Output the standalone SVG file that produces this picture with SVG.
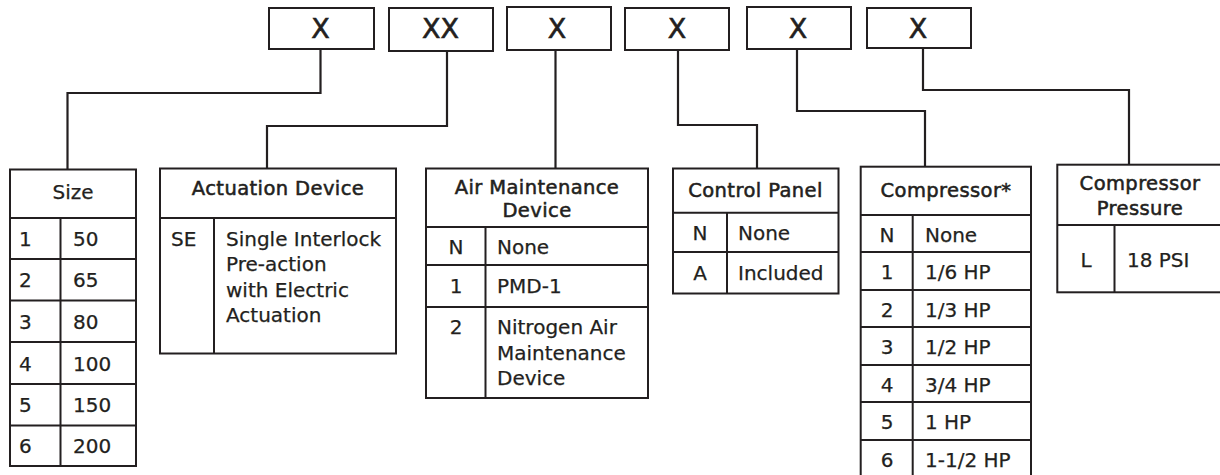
<svg xmlns="http://www.w3.org/2000/svg" width="1220" height="475" viewBox="0 0 1220 475">
<style>
.box{fill:#fff;stroke:#231f20;stroke-width:2}
.ln{stroke:#231f20;stroke-width:2;fill:none}
.con{stroke:#231f20;stroke-width:2.2;fill:none;stroke-linejoin:miter}
text{font-family:"DejaVu Sans","Liberation Sans",sans-serif;fill:#231f20}
.x{font-size:27px;text-anchor:middle;stroke:#231f20;stroke-width:0.6}
.b{font-size:20px;stroke:#231f20;stroke-width:0.25}
.c{text-anchor:middle}
.h{font-size:19.5px;text-anchor:middle;stroke:#231f20;stroke-width:0.55;letter-spacing:0.4px}
.hs{font-size:20px;text-anchor:middle;stroke:#231f20;stroke-width:0.25}
</style>
<rect width="1220" height="475" fill="#fff"/>
<g id="connectors">
<path class="con" d="M320.5,50 V93 H67.5 V169"/>
<path class="con" d="M447,51 V126 H267 V168"/>
<path class="con" d="M555.5,50 V168"/>
<path class="con" d="M678,50 V125 H757 V168"/>
<path class="con" d="M797,49 V111 H925 V166"/>
<path class="con" d="M923,48 V90 H1129 V164"/>
</g>
<g id="code1"><rect class="box" x="269" y="8" width="105" height="41"/><text class="x" x="320.5" y="38">X</text></g>
<g id="code2"><rect class="box" x="389" y="8" width="104" height="43"/><text class="x" x="440.5" y="38">XX</text></g>
<g id="code3"><rect class="box" x="507" y="7" width="104" height="43"/><text class="x" x="557" y="38">X</text></g>
<g id="code4"><rect class="box" x="625" y="8" width="104" height="42"/><text class="x" x="677" y="38">X</text></g>
<g id="code5"><rect class="box" x="747" y="7" width="104" height="42"/><text class="x" x="798" y="38">X</text></g>
<g id="code6"><rect class="box" x="867" y="8" width="104" height="40"/><text class="x" x="918" y="38">X</text></g>

<g id="size">
<rect class="box" x="10" y="169.5" width="126" height="296.5"/>
<path class="ln" d="M10,218 H136 M10,259 H136 M10,300.5 H136 M10,342 H136 M10,384 H136 M10,425.5 H136 M60.5,218 V466"/>
<text class="hs" x="73" y="199">Size</text>
<g class="b">
<text x="19" y="246">1</text><text x="73" y="246">50</text>
<text x="19" y="287">2</text><text x="73" y="287">65</text>
<text x="19" y="328.5">3</text><text x="73" y="328.5">80</text>
<text x="19" y="370.5">4</text><text x="73" y="370.5">100</text>
<text x="19" y="412">5</text><text x="73" y="412">150</text>
<text x="19" y="453">6</text><text x="73" y="453">200</text>
</g>
</g>

<g id="actuation">
<rect class="box" x="160" y="168.5" width="236" height="185"/>
<path class="ln" d="M160,218 H396 M214,218 V353.5"/>
<text class="h" x="278" y="195">Actuation Device</text>
<g class="b">
<text x="171" y="245.5">SE</text>
<text x="226" y="245.5">Single Interlock</text>
<text x="226" y="271">Pre-action</text>
<text x="226" y="296.5">with Electric</text>
<text x="226" y="322">Actuation</text>
</g>
</g>

<g id="air">
<rect class="box" x="426" y="168.5" width="222" height="229.5"/>
<path class="ln" d="M426,227 H648 M426,265 H648 M426,307 H648 M485.5,227 V398"/>
<text class="h" x="537" y="194">Air Maintenance</text>
<text class="h" x="537" y="217">Device</text>
<g class="b">
<text class="c" x="456" y="254">N</text><text x="497" y="254">None</text>
<text class="c" x="456" y="292.5">1</text><text x="497" y="292.5">PMD-1</text>
<text class="c" x="456" y="334">2</text><text x="497" y="334">Nitrogen Air</text>
<text x="497" y="359.5">Maintenance</text>
<text x="497" y="385">Device</text>
</g>
</g>

<g id="control">
<rect class="box" x="673" y="168.5" width="165.5" height="125"/>
<path class="ln" d="M673,212.7 H838.5 M673,252 H838.5 M727,212.7 V293.5"/>
<text class="h" x="755.5" y="197">Control Panel</text>
<g class="b">
<text class="c" x="700" y="239.5">N</text><text x="738" y="239.5">None</text>
<text class="c" x="700" y="279.5">A</text><text x="738" y="279.5">Included</text>
</g>
</g>

<g id="compressor">
<rect class="box" x="860.7" y="166.7" width="170.3" height="315"/>
<path class="ln" d="M860.7,215 H1031 M860.7,252 H1031 M860.7,290 H1031 M860.7,327 H1031 M860.7,365 H1031 M860.7,402 H1031 M860.7,440 H1031 M912.7,215 V480"/>
<text class="h" x="946" y="197">Compressor*</text>
<g class="b">
<text class="c" x="887" y="241.5">N</text><text x="925" y="241.5">None</text>
<text class="c" x="887" y="279">1</text><text x="925" y="279">1/6 HP</text>
<text class="c" x="887" y="316.5">2</text><text x="925" y="316.5">1/3 HP</text>
<text class="c" x="887" y="354">3</text><text x="925" y="354">1/2 HP</text>
<text class="c" x="887" y="391.5">4</text><text x="925" y="391.5">3/4 HP</text>
<text class="c" x="887" y="429">5</text><text x="925" y="429">1 HP</text>
<text class="c" x="887" y="466.5">6</text><text x="925" y="466.5">1-1/2 HP</text>
</g>
</g>

<g id="pressure">
<rect class="box" x="1057.3" y="164.7" width="172" height="127.6"/>
<path class="ln" d="M1057.3,225 H1229 M1114.5,225 V292.3"/>
<text class="h" x="1140" y="190">Compressor</text>
<text class="h" x="1140" y="215">Pressure</text>
<g class="b">
<text class="c" x="1086" y="266.7">L</text><text x="1127" y="266.7">18 PSI</text>
</g>
</g>
</svg>
